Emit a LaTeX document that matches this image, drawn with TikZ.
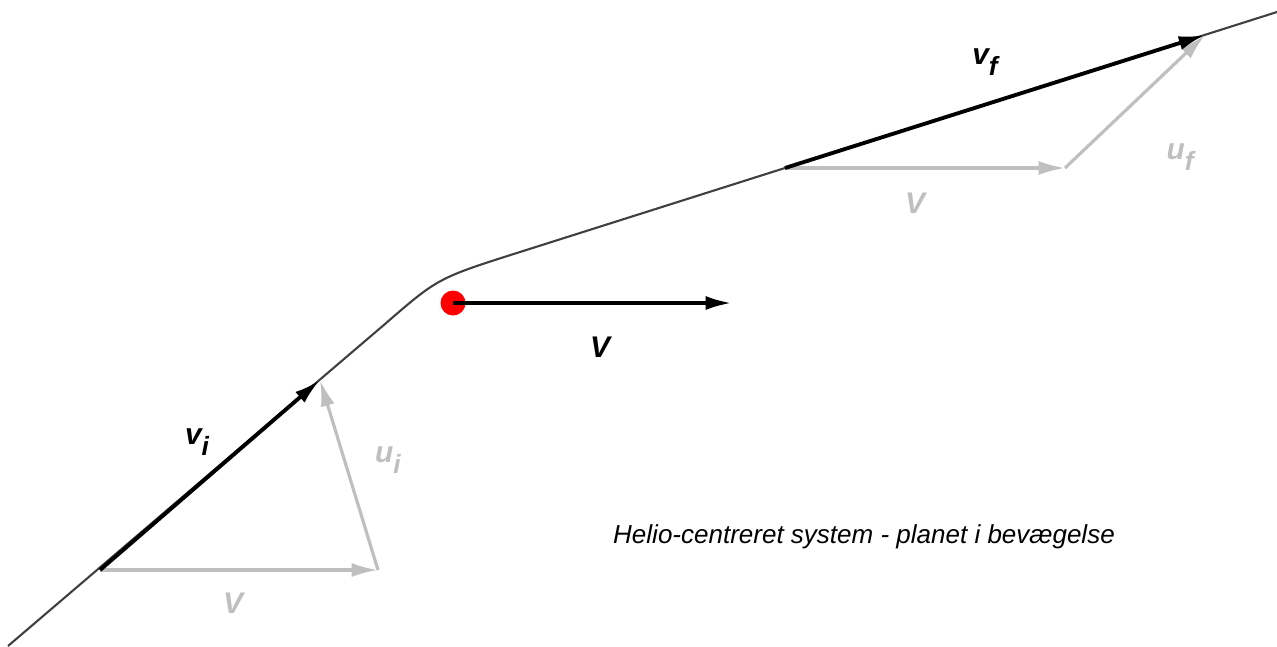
\documentclass[tikz,border=0pt]{standalone}
\usepackage{fontspec}
\setmainfont{Liberation Sans}
\usepackage{tikz}
\usetikzlibrary{arrows.meta, positioning, calc}

\newcommand{\vlab}[2]{\bfseries\itshape #1\raisebox{-0.65ex}{\fontsize{7.5}{8}\selectfont #2}}

\begin{document}
\begin{tikzpicture}[
    lbl/.style={font=\fontsize{8.5}{10}\selectfont\bfseries\itshape, inner sep=0pt},
    vbig/.style={-{Latex[length=7.5pt, width=4pt]}, line width=1.1pt, black},
    vgray/.style={-{Latex[length=7.5pt, width=4pt]}, line width=0.9pt, gray!50},
    traj/.style={line width=0.6pt, black!75}]

    \useasboundingbox (0,0) rectangle (12.77,6.46);

    % --- Trajectory (hyperbolic path) ---
    \coordinate (S) at (0.08,0.00);
    \coordinate (C1) at (3.85,3.22);
    \coordinate (K) at (4.38,3.68);
    \coordinate (C2) at (5.20,3.94);
    \coordinate (E) at (12.77,6.34);
    \draw[traj] (S) -- (C1) .. controls (K) .. (C2) -- (E);

    % --- Incoming velocities ---
    \coordinate (Vi0) at (1.00,0.76);
    \coordinate (Vi1) at (3.20,2.66);
    \coordinate (Ui0) at (3.78,0.76);
    \draw[vgray] (Vi0) -- (Ui0);
    \draw[vgray] (Ui0) -- (Vi1);
    \draw[vbig] (Vi0) -- (Vi1);
    \node[lbl, text=gray!50] (Vlow) at (2.33,0.43) {V};
    \node[font=\fontsize{8.5}{10}\selectfont, inner sep=0pt] (vi) at (1.97,2.04) {\vlab{v}{i}};
    \node[font=\fontsize{8.5}{10}\selectfont, inner sep=0pt, text=gray!50] (ui) at (3.88,1.86) {\vlab{u}{i}};

    % --- Planet ---
    \node[circle, fill=red, inner sep=0pt, minimum size=0.25cm] (P) at (4.53,3.43) {};
    \coordinate (Pv) at (7.32,3.43);
    \draw[-{Latex[length=7.5pt, width=4pt]}, line width=1.1pt] (P.center) -- (Pv);
    \node[lbl] (Vmid) at (6.00,2.99) {V};

    % --- Outgoing velocities ---
    \coordinate (Vf0) at (7.85,4.78);
    \coordinate (Vf1) at (12.05,6.11);
    \coordinate (Uf0) at (10.65,4.78);
    \draw[vgray] (Vf0) -- (Uf0);
    \draw[vgray] (Uf0) -- (Vf1);
    \draw[vbig] (Vf0) -- (Vf1);
    \node[lbl, text=gray!50] (Vup) at (9.15,4.43) {V};
    \node[font=\fontsize{8.5}{10}\selectfont, inner sep=0pt] (vf) at (9.85,5.84) {\vlab{v}{f}};
    \node[font=\fontsize{8.5}{10}\selectfont, inner sep=0pt, text=gray!50] (uf) at (11.80,4.89) {\vlab{u}{f}};

    % caption
    \node[font=\fontsize{7.4}{9}\selectfont\itshape, inner sep=0pt] (cap) at (8.64,1.09) {Helio-centreret system - planet i bevægelse};

\end{tikzpicture}
\end{document}
